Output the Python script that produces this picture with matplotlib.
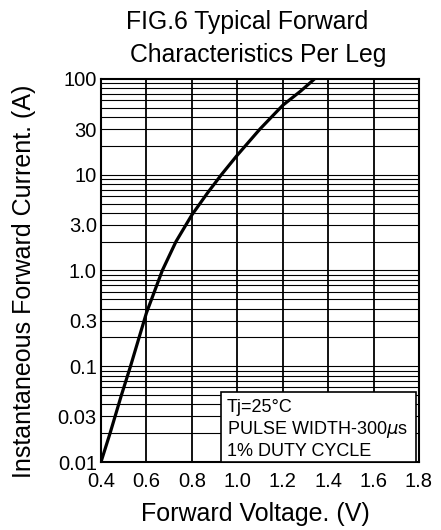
import matplotlib
matplotlib.use("Agg")
import matplotlib.pyplot as plt
from matplotlib.patches import Rectangle

plt.rcParams['font.family'] = ['Liberation Sans', 'DejaVu Sans']
plt.rcParams['mathtext.fontset'] = 'dejavusans'

# Curva (V, A)
voltaje = [0.40, 0.44, 0.49, 0.53, 0.60, 0.67, 0.73, 0.80, 0.87, 0.93, 1.00, 1.10, 1.20, 1.28, 1.34]
corriente = [0.01, 0.02, 0.05, 0.1, 0.36, 1.0, 2.0, 3.8, 6.5, 10, 16, 30, 53, 75, 100]

x_ticks = [0.4, 0.6, 0.8, 1.0, 1.2, 1.4, 1.6, 1.8]
x_labels = ["0.4", "0.6", "0.8", "1.0", "1.2", "1.4", "1.6", "1.8"]
y_ticks = [0.01, 0.03, 0.1, 0.3, 1.0, 3.0, 10, 30, 100]
y_labels = ["0.01", "0.03", "0.1", "0.3", "1.0", "3.0", "10", "30", "100"]

fig = plt.figure(figsize=(4.41, 5.30), dpi=100)
ax = fig.add_axes([0.229, 0.1283, 0.721, 0.7227])
ax.set_yscale("log")
ax.set_xlim(0.4, 1.8)
ax.set_ylim(0.01, 100)

# rejilla: lineas horizontales en 1..9 de cada decada
for dec in [0.01, 0.1, 1, 10]:
    for k in range(1, 10):
        ax.axhline(dec * k, color="black", lw=0.8, zorder=1)
for xv in x_ticks[1:-1]:
    ax.axvline(xv, color="black", lw=1.3, zorder=1)

ax.plot(voltaje, corriente, color="black", lw=2.3, zorder=3, solid_capstyle="butt")

ax.set_xticks(x_ticks)
ax.set_xticklabels(x_labels)
ax.set_yticks(y_ticks)
ax.set_yticklabels(y_labels)
ax.minorticks_off()
ax.tick_params(length=0, labelsize=14.5)
ax.tick_params(axis="x", pad=7)
ax.tick_params(axis="y", pad=3)
for s in ax.spines.values():
    s.set_linewidth(1.5)

# textos de ejes y titulo
fig.text(0.579, 0.030, "Forward Voltage. (V)", fontsize=18, ha="center", va="center")
fig.text(0.054, 0.47, "Instantaneous Forward Current. (A)", fontsize=18,
         rotation=90, ha="center", va="center")
fig.text(0.560, 0.945, "FIG.6 Typical Forward", fontsize=17.8, ha="center", va="baseline")
fig.text(0.585, 0.883, "Characteristics Per Leg", fontsize=17.8, ha="center", va="baseline")

# caja de condiciones
caja = Rectangle((0.376, 0.0), 0.614, 0.183, transform=ax.transAxes,
                 facecolor="white", edgecolor="black", lw=1.2, zorder=4)
ax.add_patch(caja)
ax.text(0.395, 0.142, "Tj=25°C", transform=ax.transAxes, fontsize=13,
        va="center", zorder=5)
ax.text(0.395, 0.085, r"PULSE WIDTH-300$\mu$s", transform=ax.transAxes, fontsize=13,
        va="center", zorder=5)
ax.text(0.395, 0.028, "1% DUTY CYCLE", transform=ax.transAxes, fontsize=13,
        va="center", zorder=5)

fig.savefig("out.png", dpi=100)
